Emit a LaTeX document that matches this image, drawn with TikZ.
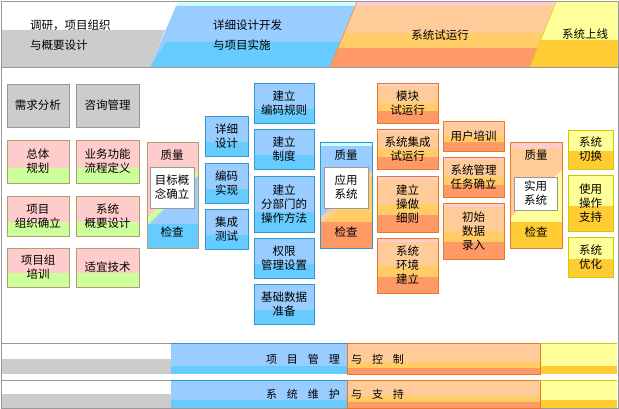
\documentclass[tikz,border=0pt]{standalone}
\usepackage{fontspec}
\setmainfont{Noto Sans CJK SC}
\usetikzlibrary{calc}
\definecolor{grayc}{HTML}{CCCCCC}
\definecolor{grayd}{HTML}{999999}
\definecolor{pinkc}{HTML}{FFCCCC}
\definecolor{greenc}{HTML}{CCFF99}
\definecolor{pgd}{HTML}{B0A070}
\definecolor{blueA}{HTML}{99CCFF}
\definecolor{blueB}{HTML}{66CCFF}
\definecolor{blueD}{HTML}{3399CC}
\definecolor{cyanL}{HTML}{CCFFFF}
\definecolor{oA}{HTML}{FFCC99}
\definecolor{oM}{HTML}{FFCC66}
\definecolor{oB}{HTML}{FF9966}
\definecolor{oD}{HTML}{E8782A}
\definecolor{yA}{HTML}{FFFF99}
\definecolor{yB}{HTML}{FFCC33}
\definecolor{yD}{HTML}{CCCC00}
\def\ppb{path picture bounding box}
\tikzset{
 bxbase/.style={inner sep=0pt,align=center,font=\fontsize{11.5}{14}\selectfont},
 graybox/.style={bxbase,draw=grayd,fill=grayc},
 pgbox/.style={bxbase,draw=pgd,fill=pinkc,path picture={\fill[greenc] (\ppb.south west) rectangle ($(\ppb.south east)!0.36!(\ppb.north east)$);}},
 bluebox/.style={bxbase,draw=blueD,fill=blueA,path picture={\fill[blueB] (\ppb.south west) rectangle ($(\ppb.south east)!0.35!(\ppb.north east)$);}},
 orbox/.style={bxbase,draw=oD,fill=oA,path picture={
   \fill[oB] (\ppb.south west) rectangle ($(\ppb.south east)!0.3!(\ppb.north east)$);
   \fill[oM] ($(\ppb.south west)!0.3!(\ppb.north west)$) rectangle ($(\ppb.south east)!0.5!(\ppb.north east)$);
   \fill[pinkc] (\ppb.north west) rectangle ($(\ppb.north east)!0.08!(\ppb.south east)$);}},
 yebox/.style={bxbase,draw=yD,fill=yA,path picture={\fill[yB] (\ppb.south west) rectangle ($(\ppb.south east)!0.45!(\ppb.north east)$);}},
 inbox/.style={bxbase,draw=grayd,fill=white,thin},
 hdr/.style={font=\fontsize{11.5}{20}\selectfont,align=left,inner sep=0pt},
 bartxt/.style={font=\fontsize{11}{13}\selectfont,inner sep=0pt},
}
\newcommand\bx[7]{\node[#6,minimum width={#4-#2},minimum height={#5-#3}] (#1) at ({(#2+#4)/2},{(#3+#5)/2}) {#7};}
\begin{document}
\begin{tikzpicture}[x=1pt,y=-1pt]
\useasboundingbox (0,0) rectangle (619,409);
\fill[white] (0,0) rectangle (619,409);
% header
\fill[white] (2,2) -- (178,2) -- (150,67) -- (2,67) -- cycle;
\fill[grayc] (2,30) -- (165,30) -- (150,67) -- (2,67) -- cycle;
\fill[cyanL] (178,2) -- (357,2) -- (330,67) -- (150,67) -- cycle;
\fill[blueA] (176,6) -- (355,6) -- (330,67) -- (150,67) -- cycle;
\fill[blueB] (166,42) -- (345,42) -- (330,67) -- (150,67) -- cycle;
\fill[pinkc] (357,2) -- (556,2) -- (530,67) -- (330,67) -- cycle;
\fill[oA] (355,6) -- (554,6) -- (530,67) -- (330,67) -- cycle;
\fill[oM] (344,33) -- (543,33) -- (530,67) -- (330,67) -- cycle;
\fill[oB] (338,48) -- (537,48) -- (530,67) -- (330,67) -- cycle;
\draw[oD] (357,2) -- (330,67);
\fill[yA] (556,2) -- (619,2) -- (619,67) -- (530,67) -- cycle;
\fill[yB] (541,40) -- (619,40) -- (619,67) -- (530,67) -- cycle;
\draw[yD] (556,2) -- (530,67);
\draw[grayd] (1,1) rectangle (618,408);
\draw[grayd] (1,67) -- (618,67);
\node[hdr,anchor=west] (h1) at (30,35) {调研，项目组织\\与概要设计};
\node[hdr,anchor=west] (h2) at (213,35) {详细设计开发\\与项目实施};
\node[hdr] (h3) at (440,35) {系统试运行};
\node[hdr] (h4) at (585,34) {系统上线};
% bottom bars
\foreach \ya/\yb/\nm in {343/374/a,380/408/b}{
 \fill[white] (2,\ya) rectangle (171,\yb);
 \fill[grayc] (2,{(\ya+\yb)/2}) rectangle (171,\yb);
 \fill[blueA] (171,\ya) rectangle (347,\yb);
 \fill[blueB] (171,{\yb-8}) rectangle (347,\yb);
 \fill[oA] (347,\ya) rectangle (540,\yb);
 \fill[oM] (347,{\yb-12}) rectangle (540,{\yb-6});
 \fill[oB] (347,{\yb-6}) rectangle (540,\yb);
 \fill[yA] (540,\ya) rectangle (617,\yb);
 \fill[yB] (540,{\yb-8}) rectangle (617,\yb);
 \draw[grayd] (2,\ya) -- (171,\ya);
 \draw[blueD] (171,\ya) -- (347,\ya);
 \draw[oD] (347,\ya) rectangle (540,\yb);
 \draw[yD] (540,\ya) -- (617,\ya);
}
\node[bartxt,anchor=east] (b1) at (340,359) {项\hspace{0.9em}目\hspace{0.9em}管\hspace{0.9em}理};
\node[bartxt,anchor=west] (b2) at (351,359) {与\hspace{0.9em}控\hspace{0.9em}制};
\node[bartxt,anchor=east] (b3) at (340,394) {系\hspace{0.9em}统\hspace{0.9em}维\hspace{0.9em}护};
\node[bartxt,anchor=west] (b4) at (351,394) {与\hspace{0.9em}支\hspace{0.9em}持};
% left boxes
\bx{g1}{7}{84}{69}{127}{graybox}{需求分析}
\bx{g2}{76}{84}{139}{127}{graybox}{咨询管理}
\bx{p1}{7}{140}{69}{183}{pgbox}{总体\\规划}
\bx{p2}{76}{140}{139}{183}{pgbox}{业务功能\\流程定义}
\bx{p3}{7}{196}{69}{236}{pgbox}{项目\\组织确立}
\bx{p4}{76}{196}{139}{236}{pgbox}{系统\\概要设计}
\bx{p5}{7}{248}{69}{287}{pgbox}{项目组\\培训}
\bx{p6}{76}{248}{139}{287}{pgbox}{适宜技术}
% quality 1
\fill[pinkc] (147,142) rectangle (198,248);
\fill[greenc] (147,218) -- (198,170) -- (198,248) -- (147,248) -- cycle;
\fill[blueA] (147,226) -- (198,176) -- (198,248) -- (147,248) -- cycle;
\fill[blueB] (147,224) rectangle (198,248);
\draw[pgd] (147,142) rectangle (198,248);
\node[bxbase] (q1a) at (172,155) {质量};
\bx{q1}{150}{167}{194}{208}{inbox}{目标概\\念确立}
\node[bxbase] (q1b) at (172,232) {检查};
% blue columns
\bx{b11}{205}{116}{248}{156}{bluebox}{详细\\设计}
\bx{b12}{205}{163}{248}{203}{bluebox}{编码\\实现}
\bx{b13}{205}{209}{248}{249}{bluebox}{集成\\测试}
\bx{b21}{254}{83}{314}{123}{bluebox}{建立\\编码规则}
\bx{b22}{254}{129}{314}{169}{bluebox}{建立\\制度}
\bx{b23}{254}{176}{314}{232}{bluebox}{建立\\分部门的\\操作方法}
\bx{b24}{254}{238}{314}{278}{bluebox}{权限\\管理设置}
\bx{b25}{254}{284}{314}{324}{bluebox}{基础数据\\准备}
% quality 2
\fill[blueA] (320,142) rectangle (372,248);
\fill[cyanL] (320,142) rectangle (372,146);
\fill[oA] (320,218) -- (372,170) -- (372,248) -- (320,248) -- cycle;
\fill[oM] (320,226) -- (372,178) -- (372,248) -- (320,248) -- cycle;
\fill[oB] (320,222) rectangle (372,248);
\draw[blueD] (320,142) rectangle (372,248);
\node[bxbase] (q2a) at (346,155) {质量};
\bx{q2}{324}{167}{368}{208}{inbox}{应用\\系统}
\node[bxbase] (q2b) at (346,232) {检查};
% orange columns
\bx{o11}{377}{83}{438}{123}{orbox}{模块\\试运行}
\bx{o12}{377}{129}{438}{169}{orbox}{系统集成\\试运行}
\bx{o13}{377}{176}{438}{232}{orbox}{建立\\操做\\细则}
\bx{o14}{377}{238}{438}{293}{orbox}{系统\\环境\\建立}
\bx{o21}{443}{121}{504}{151}{orbox}{用户培训}
\bx{o22}{443}{157}{504}{197}{orbox}{系统管理\\任务确立}
\bx{o23}{443}{203}{504}{259}{orbox}{初始\\数据\\录入}
% quality 3
\fill[oA] (510,142) rectangle (562,248);
\fill[pinkc] (510,142) rectangle (562,148);
\fill[yA] (510,218) -- (562,170) -- (562,248) -- (510,248) -- cycle;
\fill[yB] (510,222) rectangle (562,248);
\draw[oD] (510,142) rectangle (562,248);
\node[bxbase] (q3a) at (536,155) {质量};
\bx{q3}{514}{177}{557}{210}{inbox}{实用\\系统}
\node[bxbase] (q3b) at (536,232) {检查};
% yellow column
\bx{y1}{568}{130}{613}{169}{yebox}{系统\\切换}
\bx{y2}{568}{175}{613}{231}{yebox}{使用\\操作\\支持}
\bx{y3}{568}{237}{613}{277}{yebox}{系统\\优化}
\end{tikzpicture}
\end{document}
